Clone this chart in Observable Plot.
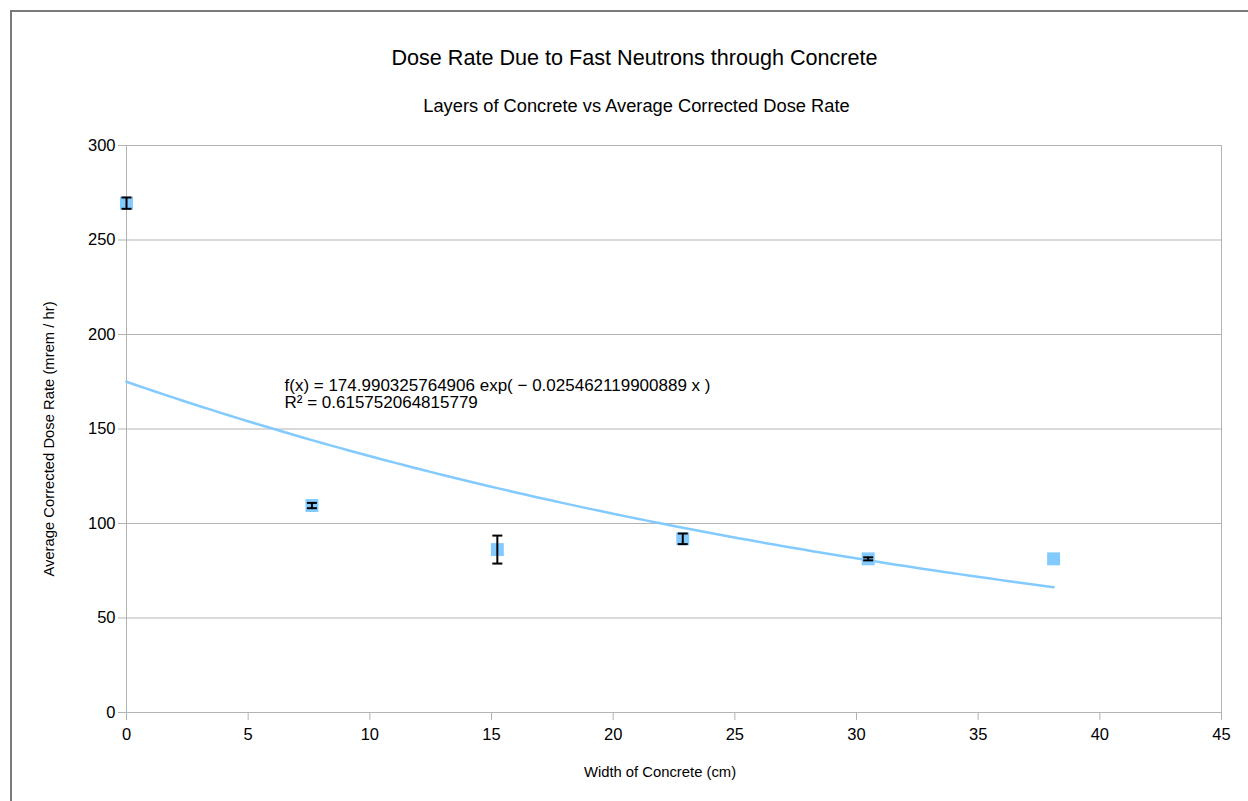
<!DOCTYPE html>
<html>
<head>
<meta charset="utf-8">
<script src="https://cdn.jsdelivr.net/npm/d3@7"></script>
<script src="https://cdn.jsdelivr.net/npm/@observablehq/plot@0.6"></script>
<style>
  body { margin: 0; background: #fff; width: 1248px; height: 801px; overflow: hidden; position: relative;
         font-family: "Liberation Sans", Arial, sans-serif; color: #000; }
  #border { position: absolute; left: 10px; top: 10px; width: 1400px; height: 1000px;
            border-left: 2px solid #7a7a7a; border-top: 2px solid #7a7a7a; pointer-events: none; }
  #head { position: relative; height: 125px; }
  #title { position: absolute; left: 0; width: 1269px; text-align: center; top: 47px; font-size: 21.6px; line-height: 1; }
  #subtitle { position: absolute; left: 0; width: 1273px; text-align: center; top: 97px; font-size: 18.3px; line-height: 1; }
  #chart svg { display: block; }
</style>
</head>
<body>
<div id="border"></div>
<div id="head">
  <div id="title">Dose Rate Due to Fast Neutrons through Concrete</div>
  <div id="subtitle">Layers of Concrete vs Average Corrected Dose Rate</div>
</div>
<div id="chart"></div>
<script>
// ---- data ----
const widths = [0, 7.62, 15.24, 22.86, 30.48, 38.1];
const doseRates = [269.5, 109.5, 86.2, 91.9, 81.3, 81.3];
const doseErrors = [3.0, 1.4, 7.4, 2.8, 0.8, 0];
const xTicks = [0, 5, 10, 15, 20, 25, 30, 35, 40, 45];
const yTicks = [0, 50, 100, 150, 200, 250, 300];
const fitA = 174.990325764906;
const fitB = 0.025462119900889;
const fitR2 = "0.615752064815779";
const xLabel = "Width of Concrete (cm)";
const yLabel = "Average Corrected Dose Rate (mrem / hr)";
const eqText = "f(x) = 174.990325764906 exp( \u2212 0.025462119900889 x )\nR\u00B2 = " + fitR2;

// ---- derived tables ----
const points = widths.map((w, i) => ({w, d: doseRates[i], e: doseErrors[i]}));
const errs = points.filter(p => p.e > 0);
const caps = errs.flatMap(p => [{w: p.w, v: p.d - p.e}, {w: p.w, v: p.d + p.e}]);
const xMax = d3.max(widths);
const trend = d3.range(0, 101).map(i => {
  const x = xMax * i / 100;
  return {x, y: fitA * Math.exp(-fitB * x)};
});

const capSymbol = {
  draw(ctx, size) {
    const w = Math.sqrt(size / Math.PI);
    ctx.moveTo(-w, 0);
    ctx.lineTo(w, 0);
  }
};

const blue = "#83caff";
const grid = "#b3b3b3";

const chart = Plot.plot({
  width: 1248,
  height: 676,
  marginLeft: 126,
  marginRight: 27,
  marginTop: 20,
  marginBottom: 89,
  style: {fontFamily: "'Liberation Sans', Arial, sans-serif", fontSize: "16.5px", color: "#000", background: "transparent", overflow: "visible"},
  x: {domain: [0, 45]},
  y: {domain: [0, 300]},
  marks: [
    Plot.gridY(yTicks, {stroke: grid, strokeOpacity: 1}),
    Plot.frame({stroke: grid}),
    Plot.axisX({ticks: xTicks, tickSize: 8, tickPadding: 8, stroke: grid, fill: "#000", label: null, fontSize: 16.5}),
    Plot.axisY({ticks: yTicks, tickSize: 8, tickPadding: 3, stroke: grid, fill: "#000", label: null, fontSize: 16.5}),
    Plot.line(trend, {x: "x", y: "y", stroke: blue, strokeWidth: 2.5}),
    Plot.dot(points, {x: "w", y: "d", symbol: "square", r: 7.3, fill: blue, stroke: "none"}),
    Plot.ruleX(errs, {x: "w", y1: d => d.d - d.e, y2: d => d.d + d.e, stroke: "#000", strokeWidth: 2}),
    Plot.dot(caps, {x: "w", y: "v", symbol: capSymbol, r: 5, stroke: "#000", strokeWidth: 2, fill: "none"}),
    Plot.text([eqText], {text: d => d, frameAnchor: "top-left", dx: 158, dy: 233.6, textAnchor: "start", lineAnchor: "top", lineHeight: 1, fontSize: 17, fill: "#000"}),
    Plot.text([yLabel], {text: d => d, frameAnchor: "left", dx: -77, dy: 10, rotate: -90, textAnchor: "middle", lineAnchor: "middle", fontSize: 14.8, fill: "#000"}),
    Plot.text([xLabel], {text: d => d, frameAnchor: "bottom", dx: -14, dy: 60, textAnchor: "middle", lineAnchor: "middle", fontSize: 14.8, fill: "#000"})
  ]
});
document.getElementById("chart").appendChild(chart);
</script>
</body>
</html>
